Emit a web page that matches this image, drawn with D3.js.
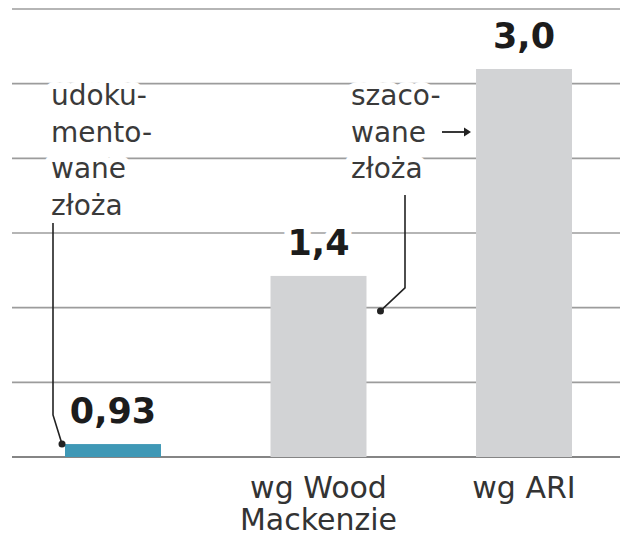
<!DOCTYPE html>
<html>
<head>
<meta charset="utf-8">
<script src="https://cdn.jsdelivr.net/npm/d3@7"></script>
<style>
  body { margin: 0; background: #fff; }
  text { font-family: "DejaVu Sans", sans-serif; }
</style>
</head>
<body>
<script>
// categories (two-line labels, first one has none)
var categories = ['udok', 'wood', 'ari'];
var catLines = [[], ['wg Wood', 'Mackenzie'], ['wg ARI']];
// bar heights (the first bar is drawn very short)
var barValues = [0.1, 1.4, 3.0];
var valueLabels = ['0,93', '1,4', '3,0'];
var barColors = ['#3f98b6', '#d2d3d5', '#d2d3d5'];
// background rules
var gridRows = d3.range(7);
// annotation texts
var noteLeft = ['udoku-', 'mento-', 'wane', 'złoża'];
var noteRight = ['szaco-', 'wane', 'złoża'];

var W = 620, H = 536;
var baseY = 457;

var svg = d3.select('body').append('svg')
    .attr('width', W)
    .attr('height', H);

var x = d3.scaleBand()
    .domain(categories)
    .range([65, 572])
    .paddingInner(0.533)
    .paddingOuter(0);

var y = d3.scaleLinear()
    .domain([0, 3.0])
    .range([baseY, 69]);

var gridY = d3.scaleLinear()
    .domain([0, 6])
    .range([baseY, 9]);

// grid lines
svg.append('g')
  .selectAll('line')
    .data(gridRows)
    .enter()
  .append('line')
    .attr('x1', 12)
    .attr('x2', W)
    .attr('y1', function(d) { return gridY(d); })
    .attr('y2', function(d) { return gridY(d); })
    .attr('stroke', function(d) { return d === 0 ? '#858585' : '#9c9c9c'; })
    .attr('stroke-width', function(d) { return d === 0 ? 2 : 1.6; });

// bars
svg.append('g')
  .selectAll('rect')
    .data(barValues)
    .enter()
  .append('rect')
    .attr('x', function(d, i) { return x(categories[i]); })
    .attr('width', x.bandwidth())
    .attr('y', function(d) { return y(d); })
    .attr('height', function(d) { return baseY - y(d); })
    .attr('fill', function(d, i) { return barColors[i]; });

// value labels with white halo over the grid
svg.append('g')
  .selectAll('text')
    .data(barValues)
    .enter()
  .append('text')
    .attr('x', function(d, i) { return x(categories[i]) + x.bandwidth() / 2; })
    .attr('y', function(d) { return y(d) - 21; })
    .attr('text-anchor', 'middle')
    .style('font-size', '35px')
    .style('font-weight', 'bold')
    .attr('fill', '#1c1c1c')
    .attr('stroke', '#fff')
    .attr('stroke-width', 14)
    .attr('stroke-linejoin', 'round')
    .attr('paint-order', 'stroke')
    .text(function(d, i) { return valueLabels[i]; });

// category labels under the bars
categories.forEach(function(c, i) {
  svg.append('text')
    .attr('x', x(c) + x.bandwidth() / 2)
    .attr('y', 498)
    .attr('text-anchor', 'middle')
    .style('font-size', '30px')
    .attr('fill', '#333')
  .selectAll('tspan')
    .data(catLines[i])
    .enter()
  .append('tspan')
    .attr('x', x(c) + x.bandwidth() / 2)
    .attr('dy', function(d, j) { return j === 0 ? 0 : 32; })
    .text(function(d) { return d; });
});

// annotation blocks
function note(lines, tx, ty) {
  svg.append('g')
    .selectAll('text')
      .data(lines)
      .enter()
    .append('text')
      .attr('x', tx)
      .attr('y', function(d, i) { return ty + i * 36.7; })
      .style('font-size', '28px')
      .attr('fill', '#3a3a3a')
      .attr('stroke', '#fff')
      .attr('stroke-width', 14)
      .attr('stroke-linejoin', 'round')
      .attr('paint-order', 'stroke')
      .text(function(d) { return d; });
}
note(noteLeft, 51, 105);
note(noteRight, 351, 105);

var ink = '#222';

// leader to the small blue bar
var bx = x(categories[0]);
svg.append('path')
    .attr('d', d3.line()([[53, 223], [53, 415], [bx - 3, y(barValues[0])]]))
    .attr('fill', 'none')
    .attr('stroke', ink)
    .attr('stroke-width', 1.6);
svg.append('circle')
    .attr('cx', bx - 3)
    .attr('cy', y(barValues[0]))
    .attr('r', 3.5)
    .attr('fill', ink);

// leader to the Wood Mackenzie bar
var wx = x(categories[1]) + x.bandwidth();
var wy = y(barValues[1]) + 35;
svg.append('path')
    .attr('d', d3.line()([[405, 195], [405, wy - 23], [wx + 14, wy]]))
    .attr('fill', 'none')
    .attr('stroke', ink)
    .attr('stroke-width', 1.6);
svg.append('circle')
    .attr('cx', wx + 14)
    .attr('cy', wy)
    .attr('r', 3.5)
    .attr('fill', ink);

// arrow to the ARI bar
var ax = x(categories[2]);
svg.append('line')
    .attr('x1', 442)
    .attr('x2', ax - 10)
    .attr('y1', 132)
    .attr('y2', 132)
    .attr('stroke', ink)
    .attr('stroke-width', 1.8);
svg.append('path')
    .attr('d', d3.line()([[ax - 12, 127.5], [ax - 5, 132], [ax - 12, 136.5]]))
    .attr('fill', ink);
</script>
</body>
</html>
